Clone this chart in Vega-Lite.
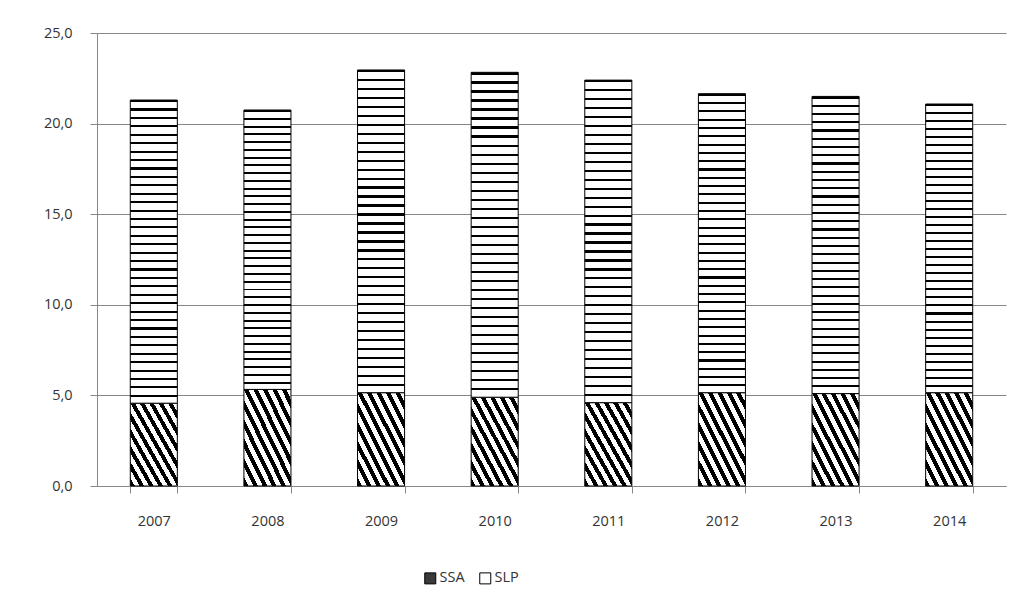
{
  "$schema": "https://vega.github.io/schema/vega-lite/v6.json",
  "width": 909,
  "height": 453,
  "autosize": {"type": "none"},
  "padding": {"left": 97, "top": 33, "right": 17, "bottom": 128},
  "background": "white",
  "config": {"view": {"stroke": null}, "font": "Open Sans"},
  "data": {
    "values": [
      {"year": "2007", "series": "SSA", "ord": 1, "value": 4.57},
      {"year": "2007", "series": "SLP", "ord": 2, "value": 16.73},
      {"year": "2008", "series": "SSA", "ord": 1, "value": 5.33},
      {"year": "2008", "series": "SLP", "ord": 2, "value": 15.42},
      {"year": "2009", "series": "SSA", "ord": 1, "value": 5.15},
      {"year": "2009", "series": "SLP", "ord": 2, "value": 17.81},
      {"year": "2010", "series": "SSA", "ord": 1, "value": 4.9},
      {"year": "2010", "series": "SLP", "ord": 2, "value": 17.93},
      {"year": "2011", "series": "SSA", "ord": 1, "value": 4.6},
      {"year": "2011", "series": "SLP", "ord": 2, "value": 17.8},
      {"year": "2012", "series": "SSA", "ord": 1, "value": 5.15},
      {"year": "2012", "series": "SLP", "ord": 2, "value": 16.5},
      {"year": "2013", "series": "SSA", "ord": 1, "value": 5.1},
      {"year": "2013", "series": "SLP", "ord": 2, "value": 16.4},
      {"year": "2014", "series": "SSA", "ord": 1, "value": 5.15},
      {"year": "2014", "series": "SLP", "ord": 2, "value": 15.93}
    ]
  },
  "encoding": {
    "x": {
      "field": "year",
      "type": "ordinal",
      "scale": {"paddingInner": 0.586, "paddingOuter": 0.293},
      "axis": {
        "title": null,
        "labelAngle": 0,
        "labelFontSize": 14.5,
        "labelColor": "#333333",
        "labelPadding": 21,
        "tickSize": 7,
        "tickColor": "#868686",
        "domainColor": "#868686",
        "tickBand": "extent",
        "grid": false
      }
    },
    "y": {
      "field": "value",
      "type": "quantitative",
      "stack": "zero",
      "scale": {"domain": [0, 25]},
      "axis": {
        "title": null,
        "values": [0, 5, 10, 15, 20, 25],
        "labelExpr": "replace(format(datum.value, '.1f'), '.', ',')",
        "labelFontSize": 14.5,
        "labelColor": "#333333",
        "labelPadding": 18,
        "tickSize": 7,
        "tickColor": "#868686",
        "domainColor": "#868686",
        "grid": true,
        "gridColor": "#868686"
      }
    },
    "order": {"field": "ord", "type": "quantitative"}
  },
  "layer": [
    {
      "mark": {"type": "bar", "stroke": "#000000", "strokeWidth": 1},
      "encoding": {
        "fill": {
          "condition": {
            "test": "datum.series === 'SSA'",
            "value": {"gradient": "linear", "x1": 0, "y1": 1, "x2": 1, "y2": 0, "stops": [
              {"offset": 0, "color": "#000000"}, {"offset": 0.048, "color": "#000000"}, {"offset": 0.048, "color": "#ffffff"}, {"offset": 0.1, "color": "#ffffff"},
              {"offset": 0.1, "color": "#000000"}, {"offset": 0.148, "color": "#000000"}, {"offset": 0.148, "color": "#ffffff"}, {"offset": 0.2, "color": "#ffffff"},
              {"offset": 0.2, "color": "#000000"}, {"offset": 0.248, "color": "#000000"}, {"offset": 0.248, "color": "#ffffff"}, {"offset": 0.3, "color": "#ffffff"},
              {"offset": 0.3, "color": "#000000"}, {"offset": 0.348, "color": "#000000"}, {"offset": 0.348, "color": "#ffffff"}, {"offset": 0.4, "color": "#ffffff"},
              {"offset": 0.4, "color": "#000000"}, {"offset": 0.448, "color": "#000000"}, {"offset": 0.448, "color": "#ffffff"}, {"offset": 0.5, "color": "#ffffff"},
              {"offset": 0.5, "color": "#000000"}, {"offset": 0.548, "color": "#000000"}, {"offset": 0.548, "color": "#ffffff"}, {"offset": 0.6, "color": "#ffffff"},
              {"offset": 0.6, "color": "#000000"}, {"offset": 0.648, "color": "#000000"}, {"offset": 0.648, "color": "#ffffff"}, {"offset": 0.7, "color": "#ffffff"},
              {"offset": 0.7, "color": "#000000"}, {"offset": 0.748, "color": "#000000"}, {"offset": 0.748, "color": "#ffffff"}, {"offset": 0.8, "color": "#ffffff"},
              {"offset": 0.8, "color": "#000000"}, {"offset": 0.848, "color": "#000000"}, {"offset": 0.848, "color": "#ffffff"}, {"offset": 0.9, "color": "#ffffff"},
              {"offset": 0.9, "color": "#000000"}, {"offset": 0.948, "color": "#000000"}, {"offset": 0.948, "color": "#ffffff"}, {"offset": 1, "color": "#ffffff"}
            ]}
          },
          "value": {"gradient": "linear", "x1": 0, "y1": 0, "x2": 0, "y2": 1, "stops": [
            {"offset": 0, "color": "#000000"}, {"offset": 0.007, "color": "#000000"}, {"offset": 0.007, "color": "#ffffff"}, {"offset": 0.0278, "color": "#ffffff"},
            {"offset": 0.0278, "color": "#000000"}, {"offset": 0.0348, "color": "#000000"}, {"offset": 0.0348, "color": "#ffffff"}, {"offset": 0.0556, "color": "#ffffff"},
            {"offset": 0.0556, "color": "#000000"}, {"offset": 0.0626, "color": "#000000"}, {"offset": 0.0626, "color": "#ffffff"}, {"offset": 0.0833, "color": "#ffffff"},
            {"offset": 0.0833, "color": "#000000"}, {"offset": 0.0903, "color": "#000000"}, {"offset": 0.0903, "color": "#ffffff"}, {"offset": 0.1111, "color": "#ffffff"},
            {"offset": 0.1111, "color": "#000000"}, {"offset": 0.1181, "color": "#000000"}, {"offset": 0.1181, "color": "#ffffff"}, {"offset": 0.1389, "color": "#ffffff"},
            {"offset": 0.1389, "color": "#000000"}, {"offset": 0.1459, "color": "#000000"}, {"offset": 0.1459, "color": "#ffffff"}, {"offset": 0.1667, "color": "#ffffff"},
            {"offset": 0.1667, "color": "#000000"}, {"offset": 0.1737, "color": "#000000"}, {"offset": 0.1737, "color": "#ffffff"}, {"offset": 0.1944, "color": "#ffffff"},
            {"offset": 0.1944, "color": "#000000"}, {"offset": 0.2014, "color": "#000000"}, {"offset": 0.2014, "color": "#ffffff"}, {"offset": 0.2222, "color": "#ffffff"},
            {"offset": 0.2222, "color": "#000000"}, {"offset": 0.2292, "color": "#000000"}, {"offset": 0.2292, "color": "#ffffff"}, {"offset": 0.25, "color": "#ffffff"},
            {"offset": 0.25, "color": "#000000"}, {"offset": 0.257, "color": "#000000"}, {"offset": 0.257, "color": "#ffffff"}, {"offset": 0.2778, "color": "#ffffff"},
            {"offset": 0.2778, "color": "#000000"}, {"offset": 0.2848, "color": "#000000"}, {"offset": 0.2848, "color": "#ffffff"}, {"offset": 0.3056, "color": "#ffffff"},
            {"offset": 0.3056, "color": "#000000"}, {"offset": 0.3126, "color": "#000000"}, {"offset": 0.3126, "color": "#ffffff"}, {"offset": 0.3333, "color": "#ffffff"},
            {"offset": 0.3333, "color": "#000000"}, {"offset": 0.3403, "color": "#000000"}, {"offset": 0.3403, "color": "#ffffff"}, {"offset": 0.3611, "color": "#ffffff"},
            {"offset": 0.3611, "color": "#000000"}, {"offset": 0.3681, "color": "#000000"}, {"offset": 0.3681, "color": "#ffffff"}, {"offset": 0.3889, "color": "#ffffff"},
            {"offset": 0.3889, "color": "#000000"}, {"offset": 0.3959, "color": "#000000"}, {"offset": 0.3959, "color": "#ffffff"}, {"offset": 0.4167, "color": "#ffffff"},
            {"offset": 0.4167, "color": "#000000"}, {"offset": 0.4237, "color": "#000000"}, {"offset": 0.4237, "color": "#ffffff"}, {"offset": 0.4444, "color": "#ffffff"},
            {"offset": 0.4444, "color": "#000000"}, {"offset": 0.4514, "color": "#000000"}, {"offset": 0.4514, "color": "#ffffff"}, {"offset": 0.4722, "color": "#ffffff"},
            {"offset": 0.4722, "color": "#000000"}, {"offset": 0.4792, "color": "#000000"}, {"offset": 0.4792, "color": "#ffffff"}, {"offset": 0.5, "color": "#ffffff"},
            {"offset": 0.5, "color": "#000000"}, {"offset": 0.507, "color": "#000000"}, {"offset": 0.507, "color": "#ffffff"}, {"offset": 0.5278, "color": "#ffffff"},
            {"offset": 0.5278, "color": "#000000"}, {"offset": 0.5348, "color": "#000000"}, {"offset": 0.5348, "color": "#ffffff"}, {"offset": 0.5556, "color": "#ffffff"},
            {"offset": 0.5556, "color": "#000000"}, {"offset": 0.5626, "color": "#000000"}, {"offset": 0.5626, "color": "#ffffff"}, {"offset": 0.5833, "color": "#ffffff"},
            {"offset": 0.5833, "color": "#000000"}, {"offset": 0.5903, "color": "#000000"}, {"offset": 0.5903, "color": "#ffffff"}, {"offset": 0.6111, "color": "#ffffff"},
            {"offset": 0.6111, "color": "#000000"}, {"offset": 0.6181, "color": "#000000"}, {"offset": 0.6181, "color": "#ffffff"}, {"offset": 0.6389, "color": "#ffffff"},
            {"offset": 0.6389, "color": "#000000"}, {"offset": 0.6459, "color": "#000000"}, {"offset": 0.6459, "color": "#ffffff"}, {"offset": 0.6667, "color": "#ffffff"},
            {"offset": 0.6667, "color": "#000000"}, {"offset": 0.6737, "color": "#000000"}, {"offset": 0.6737, "color": "#ffffff"}, {"offset": 0.6944, "color": "#ffffff"},
            {"offset": 0.6944, "color": "#000000"}, {"offset": 0.7014, "color": "#000000"}, {"offset": 0.7014, "color": "#ffffff"}, {"offset": 0.7222, "color": "#ffffff"},
            {"offset": 0.7222, "color": "#000000"}, {"offset": 0.7292, "color": "#000000"}, {"offset": 0.7292, "color": "#ffffff"}, {"offset": 0.75, "color": "#ffffff"},
            {"offset": 0.75, "color": "#000000"}, {"offset": 0.757, "color": "#000000"}, {"offset": 0.757, "color": "#ffffff"}, {"offset": 0.7778, "color": "#ffffff"},
            {"offset": 0.7778, "color": "#000000"}, {"offset": 0.7848, "color": "#000000"}, {"offset": 0.7848, "color": "#ffffff"}, {"offset": 0.8056, "color": "#ffffff"},
            {"offset": 0.8056, "color": "#000000"}, {"offset": 0.8126, "color": "#000000"}, {"offset": 0.8126, "color": "#ffffff"}, {"offset": 0.8333, "color": "#ffffff"},
            {"offset": 0.8333, "color": "#000000"}, {"offset": 0.8403, "color": "#000000"}, {"offset": 0.8403, "color": "#ffffff"}, {"offset": 0.8611, "color": "#ffffff"},
            {"offset": 0.8611, "color": "#000000"}, {"offset": 0.8681, "color": "#000000"}, {"offset": 0.8681, "color": "#ffffff"}, {"offset": 0.8889, "color": "#ffffff"},
            {"offset": 0.8889, "color": "#000000"}, {"offset": 0.8959, "color": "#000000"}, {"offset": 0.8959, "color": "#ffffff"}, {"offset": 0.9167, "color": "#ffffff"},
            {"offset": 0.9167, "color": "#000000"}, {"offset": 0.9237, "color": "#000000"}, {"offset": 0.9237, "color": "#ffffff"}, {"offset": 0.9444, "color": "#ffffff"},
            {"offset": 0.9444, "color": "#000000"}, {"offset": 0.9514, "color": "#000000"}, {"offset": 0.9514, "color": "#ffffff"}, {"offset": 0.9722, "color": "#ffffff"},
            {"offset": 0.9722, "color": "#000000"}, {"offset": 0.9792, "color": "#000000"}, {"offset": 0.9792, "color": "#ffffff"}, {"offset": 1, "color": "#ffffff"}
          ]}
        }
      }
    },
    {
      "mark": {"type": "bar", "fillOpacity": 0, "strokeOpacity": 0},
      "encoding": {
        "color": {
          "field": "series",
          "type": "nominal",
          "scale": {"domain": ["SSA", "SLP"], "range": ["#3a3a3a", "#ffffff"]},
          "legend": {
            "title": null,
            "orient": "none",
            "legendX": 326,
            "legendY": 538,
            "direction": "horizontal",
            "symbolType": "square",
            "symbolSize": 121,
            "symbolStrokeColor": "#000000",
            "symbolStrokeWidth": 1,
            "symbolOpacity": 1,
            "labelFontSize": 14.5,
            "labelColor": "#333333",
            "labelOffset": 2,
            "columnPadding": 12
          }
        }
      }
    }
  ]
}
